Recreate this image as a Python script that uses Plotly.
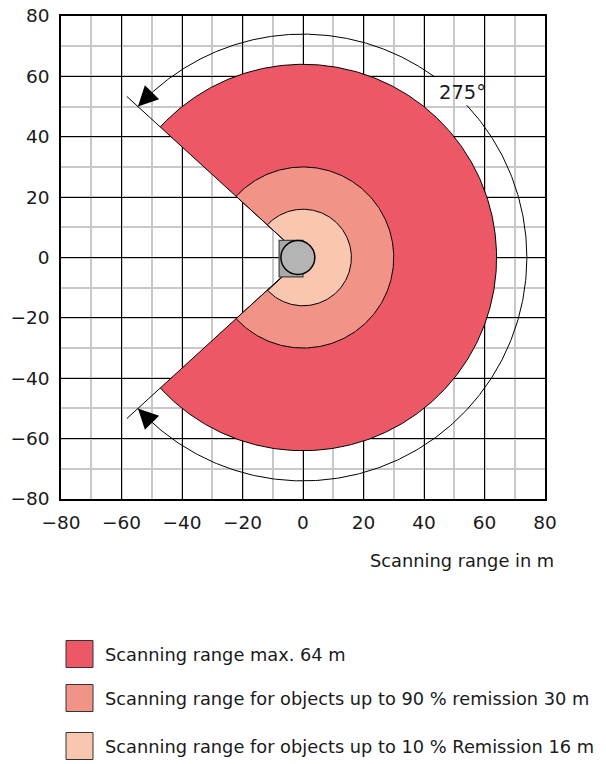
import numpy as np
import plotly.graph_objects as go

# ---- data ----
zone_names = ["Scanning range max. 64 m",
              "Scanning range for objects up to 90 % remission 30 m",
              "Scanning range for objects up to 10 % Remission 16 m"]
zone_radius = [64, 30, 16]
zone_colors = ["#EC5865", "#F29388", "#F9C6AF"]
scan_angle = 275          # degrees
arc_radius = 74
edge_length = 79
arc_gap = [43, 54]        # label gap on the arc (deg)
angle_label = "275°"
label_pos = [52.6, 54.8]
sensor_box = [-7.9, -6.4, 0.0, 5.7]    # x0, y0, x1, y1
sensor_circle = [-1.7, 0.0, 5.6]       # cx, cy, r
axis_range = [-80, 80]
tick_vals = [-80, -60, -40, -20, 0, 20, 40, 60, 80]
x_title = "Scanning range in m"

half = scan_angle / 2.0
fig = go.Figure()

for r, c, n in zip(zone_radius, zone_colors, zone_names):
    th = np.radians(np.linspace(-half, half, 400))
    xs = np.concatenate([[0], r * np.cos(th), [0]])
    ys = np.concatenate([[0], r * np.sin(th), [0]])
    fig.add_trace(go.Scatter(x=xs, y=ys, mode="lines", fill="toself",
                             fillcolor=c, line=dict(color="black", width=1),
                             name=n, showlegend=False, hoverinfo="skip"))

# edge lines of the scanning field
for a in (half, -half):
    t = np.radians(a)
    fig.add_trace(go.Scatter(x=[zone_radius[0] * np.cos(t), edge_length * np.cos(t)],
                             y=[zone_radius[0] * np.sin(t), edge_length * np.sin(t)],
                             mode="lines", line=dict(color="black", width=1),
                             showlegend=False, hoverinfo="skip"))

# angle arcs
for a0, a1 in ((arc_gap[1], half), (arc_gap[0], -half)):
    th = np.radians(np.linspace(a0, a1, 300))
    fig.add_trace(go.Scatter(x=arc_radius * np.cos(th), y=arc_radius * np.sin(th),
                             mode="lines", line=dict(color="black", width=1),
                             showlegend=False, hoverinfo="skip"))
    tip = np.radians(a1)
    back = np.radians(a1 - np.sign(a1 - a0) * 4)
    fig.add_annotation(x=arc_radius * np.cos(tip), y=arc_radius * np.sin(tip),
                       ax=arc_radius * np.cos(back), ay=arc_radius * np.sin(back),
                       axref="x", ayref="y", xref="x", yref="y", text="",
                       showarrow=True, arrowhead=2, arrowsize=4, arrowwidth=1,
                       arrowcolor="black")

fig.add_annotation(x=label_pos[0], y=label_pos[1], text=angle_label, showarrow=False,
                   font=dict(family="DejaVu Sans", size=19.5, color="#1a1a1a"))

# sensor
fig.add_shape(type="rect", x0=sensor_box[0], y0=sensor_box[1], x1=sensor_box[2], y1=sensor_box[3],
              fillcolor="#A8A8A8", line=dict(color="#444444", width=1.2), layer="above")
cx, cy, cr = sensor_circle
fig.add_shape(type="circle", x0=cx - cr, y0=cy - cr, x1=cx + cr, y1=cy + cr,
              fillcolor="#B4B4B4", line=dict(color="black", width=1.5), layer="above")

# legend (manual), positions given in page pixels
L, T, W, H = 61, 16, 484, 483
def px(x): return (x - L) / W
def py(y): return (T + H - y) / H
leg_y = [654, 698, 746]
for n, c, yc in zip(zone_names, zone_colors, leg_y):
    fig.add_shape(type="rect", xref="paper", yref="paper",
                  x0=px(66), x1=px(93), y0=py(yc - 13.5), y1=py(yc + 13.5),
                  fillcolor=c, line=dict(color="#333333", width=1))
    fig.add_annotation(xref="paper", yref="paper", x=px(103), y=py(yc), text=n,
                       showarrow=False, xanchor="left", yanchor="middle",
                       font=dict(family="DejaVu Sans", size=17.8, color="#1a1a1a"))

fig.add_annotation(xref="paper", yref="paper", x=px(556), y=py(560), text=x_title,
                   showarrow=False, xanchor="right", yanchor="middle",
                   font=dict(family="DejaVu Sans", size=17.8, color="#1a1a1a"))

axis_common = dict(range=axis_range, tickvals=tick_vals, showgrid=True,
                   gridcolor="black", gridwidth=1, zeroline=False,
                   showline=True, linecolor="black", linewidth=1.5, mirror=True,
                   ticks="outside", ticklen=6, tickcolor="rgba(0,0,0,0)",
                   tickfont=dict(family="DejaVu Sans", size=18.5, color="#1a1a1a"),
                   minor=dict(dtick=10, tick0=0, showgrid=True, gridcolor="#C8C8C8", gridwidth=1.5),
                   fixedrange=True, automargin=False)
fig.update_xaxes(**axis_common)
fig.update_yaxes(**axis_common)

fig.update_layout(width=606, height=764, margin=dict(l=61, r=61, t=16, b=265),
                  plot_bgcolor="white", paper_bgcolor="white", showlegend=False)

# remove the browser's default 8px body margin so the figure fills the window
fig.write_html("out.html", config={"displayModeBar": False},
               post_script="document.body.style.margin='0';")
